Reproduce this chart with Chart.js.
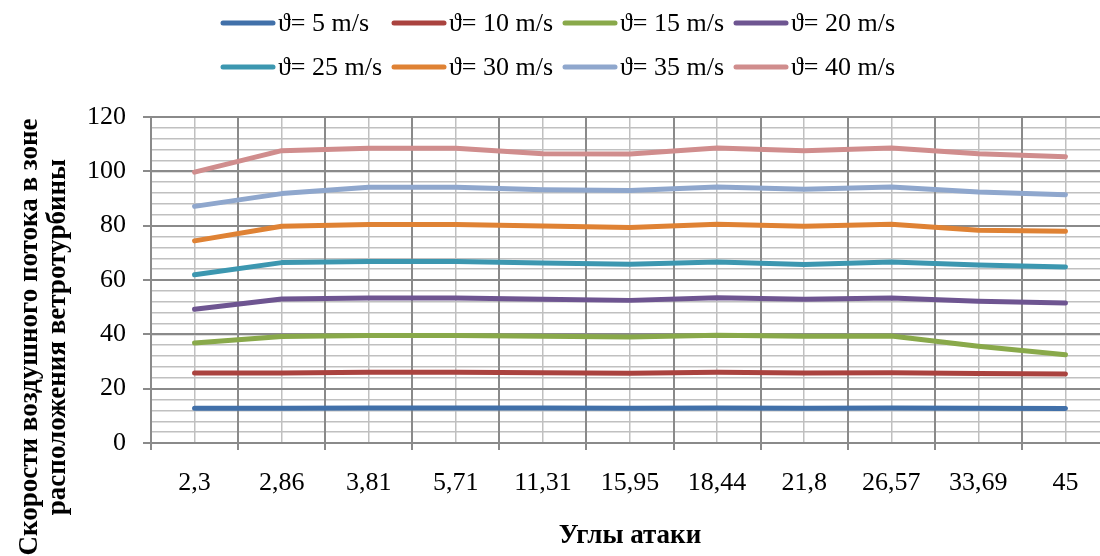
<!DOCTYPE html>
<html lang="ru">
<head>
<meta charset="UTF-8">
<title>Скорости воздушного потока</title>
<script src="https://cdn.jsdelivr.net/npm/chart.js@4.4.1/dist/chart.umd.min.js"></script>
<style>
  html, body { margin: 0; padding: 0; background: #fff; overflow: hidden; }
  #wrap { width: 1100px; height: 556px; overflow: hidden; }
  #chart { width: 1112px; height: 556px; display: block; }
</style>
</head>
<body>
<div id="wrap"><canvas id="chart" width="1112" height="556"></canvas></div>
<script>
// углы атаки (категории)
const angles = ['2,3', '2,86', '3,81', '5,71', '11,31', '15,95', '18,44', '21,8', '26,57', '33,69', '45'];

// скорости в зоне ветротурбины для разных скоростей ветра
const v5  = [12.8, 12.8, 12.9, 12.9, 12.9, 12.8, 12.9, 12.8, 12.9, 12.8, 12.7];
const v10 = [25.8, 25.8, 26.0, 26.0, 25.9, 25.7, 26.0, 25.8, 25.9, 25.6, 25.4];
const v15 = [36.8, 39.2, 39.6, 39.6, 39.3, 39.0, 39.7, 39.3, 39.4, 35.6, 32.5];
const v20 = [49.2, 53.0, 53.4, 53.4, 52.9, 52.5, 53.5, 52.9, 53.4, 52.2, 51.5];
const v25 = [61.9, 66.4, 66.8, 66.8, 66.3, 65.8, 66.6, 65.7, 66.6, 65.5, 64.8];
const v30 = [74.4, 79.8, 80.4, 80.4, 79.9, 79.3, 80.5, 79.8, 80.5, 78.3, 77.9];
const v35 = [87.1, 91.8, 94.1, 94.1, 93.2, 92.9, 94.2, 93.4, 94.2, 92.4, 91.4];
const v40 = [99.7, 107.6, 108.5, 108.5, 106.5, 106.4, 108.6, 107.6, 108.6, 106.5, 105.4];

const seriesNames = ['ϑ= 5 m/s', 'ϑ= 10 m/s', 'ϑ= 15 m/s', 'ϑ= 20 m/s',
                     'ϑ= 25 m/s', 'ϑ= 30 m/s', 'ϑ= 35 m/s', 'ϑ= 40 m/s'];
const series = [v5, v10, v15, v20, v25, v30, v35, v40];

const yTicks = { min: 0, max: 120, step: 20, minorStep: 4 };

const xTitle = 'Углы атаки';
const yTitle = ['Скорости воздушного потока в зоне', 'расположения ветротурбины'];

const colors = ['#4170a9', '#aa433f', '#89a94a', '#6e5591', '#3c97b0', '#df8234', '#8fa7cd', '#d08d8d'];

const serif = "'Times New Roman', 'Liberation Serif', serif";
const majorGrid = '#8a8a8a';
const minorGrid = '#c0c0c0';

// легенда в две строки по 4 и подпись оси Y (как в Excel)
const extras = {
  id: 'extras',
  afterDraw(chart) {
    const ctx = chart.ctx;
    ctx.save();
    ctx.font = '26px ' + serif;
    ctx.textBaseline = 'middle';
    ctx.textAlign = 'left';
    ctx.lineCap = 'round';
    chart.data.datasets.forEach((ds, i) => {
      const x = 221 + (i % 4) * 171;
      const y = i < 4 ? 23 : 67;
      ctx.strokeStyle = ds.borderColor;
      ctx.lineWidth = 5;
      ctx.beginPath();
      ctx.moveTo(x + 2, y);
      ctx.lineTo(x + 52, y);
      ctx.stroke();
      ctx.fillStyle = '#000';
      ctx.fillText(ds.label, x + 57, y + 1);
    });

    ctx.font = 'bold 27px ' + serif;
    ctx.textAlign = 'center';
    ctx.translate(0, 337);
    ctx.rotate(-Math.PI / 2);
    ctx.fillText(yTitle[0], 0, 30);
    ctx.fillText(yTitle[1], 0, 58);
    ctx.restore();
  }
};

const ctx = document.getElementById('chart').getContext('2d');
new Chart(ctx, {
  type: 'line',
  data: {
    labels: angles,
    datasets: series.map((d, i) => ({
      label: seriesNames[i],
      data: d,
      borderColor: colors[i],
      backgroundColor: colors[i],
      borderWidth: 5,
      borderCapStyle: 'round',
      borderJoinStyle: 'round',
      pointRadius: 0,
      tension: 0,
      fill: false
    }))
  },
  options: {
    responsive: false,
    animation: false,
    devicePixelRatio: 1,
    layout: { padding: { top: 117, right: 3, left: 0, bottom: 0 } },
    plugins: {
      legend: { display: false },
      title: { display: false },
      tooltip: { enabled: false }
    },
    scales: {
      x: {
        type: 'category',
        offset: true,
        grid: { offset: true, color: majorGrid, lineWidth: 2, tickLength: 7, z: -1 },
        border: { color: majorGrid, width: 2 },
        ticks: { color: '#000', font: { family: serif, size: 26 }, padding: 18, maxRotation: 0, autoSkip: false },
        title: { display: true, text: xTitle, color: '#000',
                 font: { family: serif, size: 27, weight: 'bold' }, padding: { top: 0, bottom: 4 } },
        afterFit(s) { s.height = 113; }
      },
      xMinor: {
        type: 'category',
        position: 'bottom',
        offset: true,
        grid: { offset: false, color: minorGrid, lineWidth: 1.5, drawTicks: false, z: -2 },
        border: { display: false },
        ticks: { display: false },
        afterFit(s) { s.height = 0; }
      },
      y: {
        min: yTicks.min,
        max: yTicks.max,
        grid: { color: majorGrid, lineWidth: 2, tickLength: 8, z: -1 },
        border: { color: majorGrid, width: 2 },
        ticks: { stepSize: yTicks.step, color: '#000', font: { family: serif, size: 26 }, padding: 17 },
        afterFit(s) { s.width = 151; }
      },
      yMinor: {
        position: 'left',
        min: yTicks.min,
        max: yTicks.max,
        grid: { color: minorGrid, lineWidth: 1.5, drawTicks: false, z: -2 },
        border: { display: false },
        ticks: { display: false, stepSize: yTicks.minorStep },
        afterFit(s) { s.width = 0; }
      }
    }
  },
  plugins: [extras]
});
</script>
</body>
</html>
